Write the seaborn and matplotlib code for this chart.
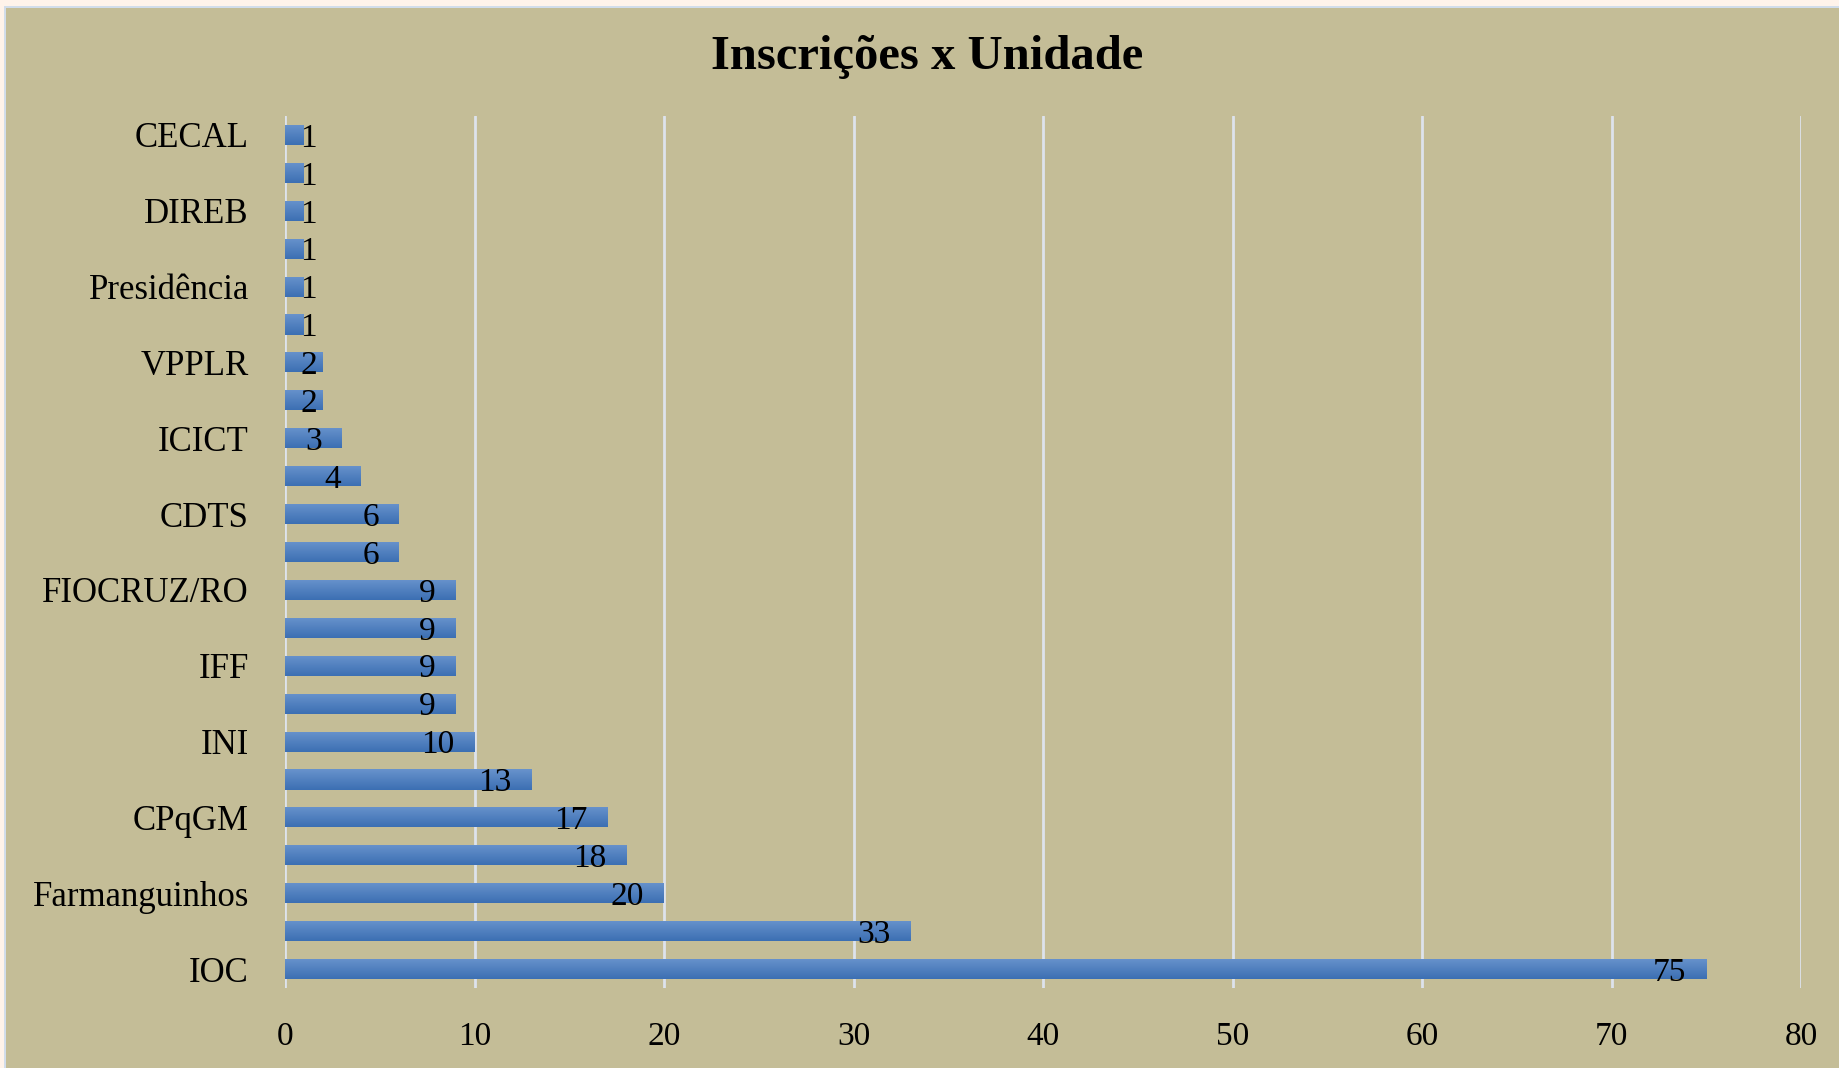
import numpy as np
import pandas as pd
import matplotlib
matplotlib.use("Agg")
import matplotlib.pyplot as plt
from matplotlib.patches import Rectangle
from matplotlib.colors import LinearSegmentedColormap
import seaborn as sns

# ---- data (top to bottom as displayed) ----
units = ["CECAL", "DIRAD", "DIREB", "VPAAPS", "Presidência", "CPqLMD", "VPPLR", "VPGDI",
         "ICICT", "COC", "CDTS", "CPqAM", "FIOCRUZ/RO", "EPSJV", "IFF", "INCQS",
         "INI", "CPqRR", "CPqGM", "Bio-Manguinhos", "Farmanguinhos", "ENSP", "IOC"]
counts = [1, 1, 1, 1, 1, 1, 2, 2, 3, 4, 6, 6, 9, 9, 9, 9, 10, 13, 17, 18, 20, 33, 75]
shown_labels = ["CECAL", "", "DIREB", "", "Presidência", "", "VPPLR", "", "ICICT", "",
                "CDTS", "", "FIOCRUZ/RO", "", "IFF", "", "INI", "", "CPqGM", "",
                "Farmanguinhos", "", "IOC"]
x_ticks = [0, 10, 20, 30, 40, 50, 60, 70, 80]
title = "Inscrições x Unidade"

df = pd.DataFrame({"unit": units, "count": counts})

BG = "#C4BD97"
sns.set_theme(style="white")
plt.rcParams["font.family"] = ["Liberation Serif", "DejaVu Serif"]

fig = plt.figure(figsize=(18.39, 10.68), dpi=100, facecolor=BG)
ax = fig.add_axes([285/1839, 80/1068, (1801-285)/1839, (988-116)/1068])
ax.set_facecolor(BG)

sns.barplot(data=df, y="unit", x="count", order=units, orient="h",
            color="#4F7EC0", width=0.53, saturation=1, linewidth=0,
            edgecolor="none", ax=ax, zorder=3)

# vertical gradient on bars
grad = np.linspace(0, 1, 64).reshape(-1, 1)
cmap = LinearSegmentedColormap.from_list("g", ["#6893CC", "#3C6FB3"])
for p in ax.patches:
    x0, y0 = p.get_x(), p.get_y()
    w, h = p.get_width(), p.get_height()
    im = ax.imshow(grad, cmap=cmap, aspect="auto", extent=(x0, x0 + w, y0 + h, y0),
                   zorder=4, interpolation="bilinear")
    im.set_clip_path(p)

ax.set_xlim(0, 80)
ax.set_ylim(22.5, -0.5)
ax.set_xticks(x_ticks)
ax.set_xticklabels([str(t) for t in x_ticks], fontsize=24)
ax.set_yticks(range(len(units)))
ax.set_yticklabels(shown_labels, fontsize=25)
ax.set_xlabel("")
ax.set_ylabel("")
ax.tick_params(axis="x", length=0, pad=24, colors="black")
ax.tick_params(axis="y", length=0, pad=26, colors="black")
for s in ax.spines.values():
    s.set_visible(False)
ax.grid(axis="x", color="#DDE3EC", linewidth=2, zorder=1)
ax.grid(axis="y", visible=False)
ax.set_axisbelow(True)

# data labels (inside end)
for i, v in enumerate(counts):
    xr = max(v - 1.05, 1.7)
    ax.text(xr, i, str(v), ha="right", va="center_baseline", fontsize=24,
            color="black", zorder=6)

fig.text(927/1839, 1 - 57/1068, title, ha="center", va="center",
         fontsize=35, fontweight="bold", color="black")

# thin border strips (top & left)
fig.patches.append(Rectangle((0, 1 - 6/1068), 1, 6/1068, transform=fig.transFigure,
                             facecolor="#FFF3EA", edgecolor="none", zorder=10))
fig.patches.append(Rectangle((4/1839, 1 - 8/1068), 1, 2/1068, transform=fig.transFigure,
                             facecolor="#D2DDEA", edgecolor="none", zorder=10))
fig.patches.append(Rectangle((0, 0), 4/1839, 1, transform=fig.transFigure,
                             facecolor="#FFF3EA", edgecolor="none", zorder=10))
fig.patches.append(Rectangle((4/1839, 0), 2/1839, 1 - 6/1068, transform=fig.transFigure,
                             facecolor="#D2DDEA", edgecolor="none", zorder=10))

fig.savefig("out.png", dpi=100, facecolor=BG)
